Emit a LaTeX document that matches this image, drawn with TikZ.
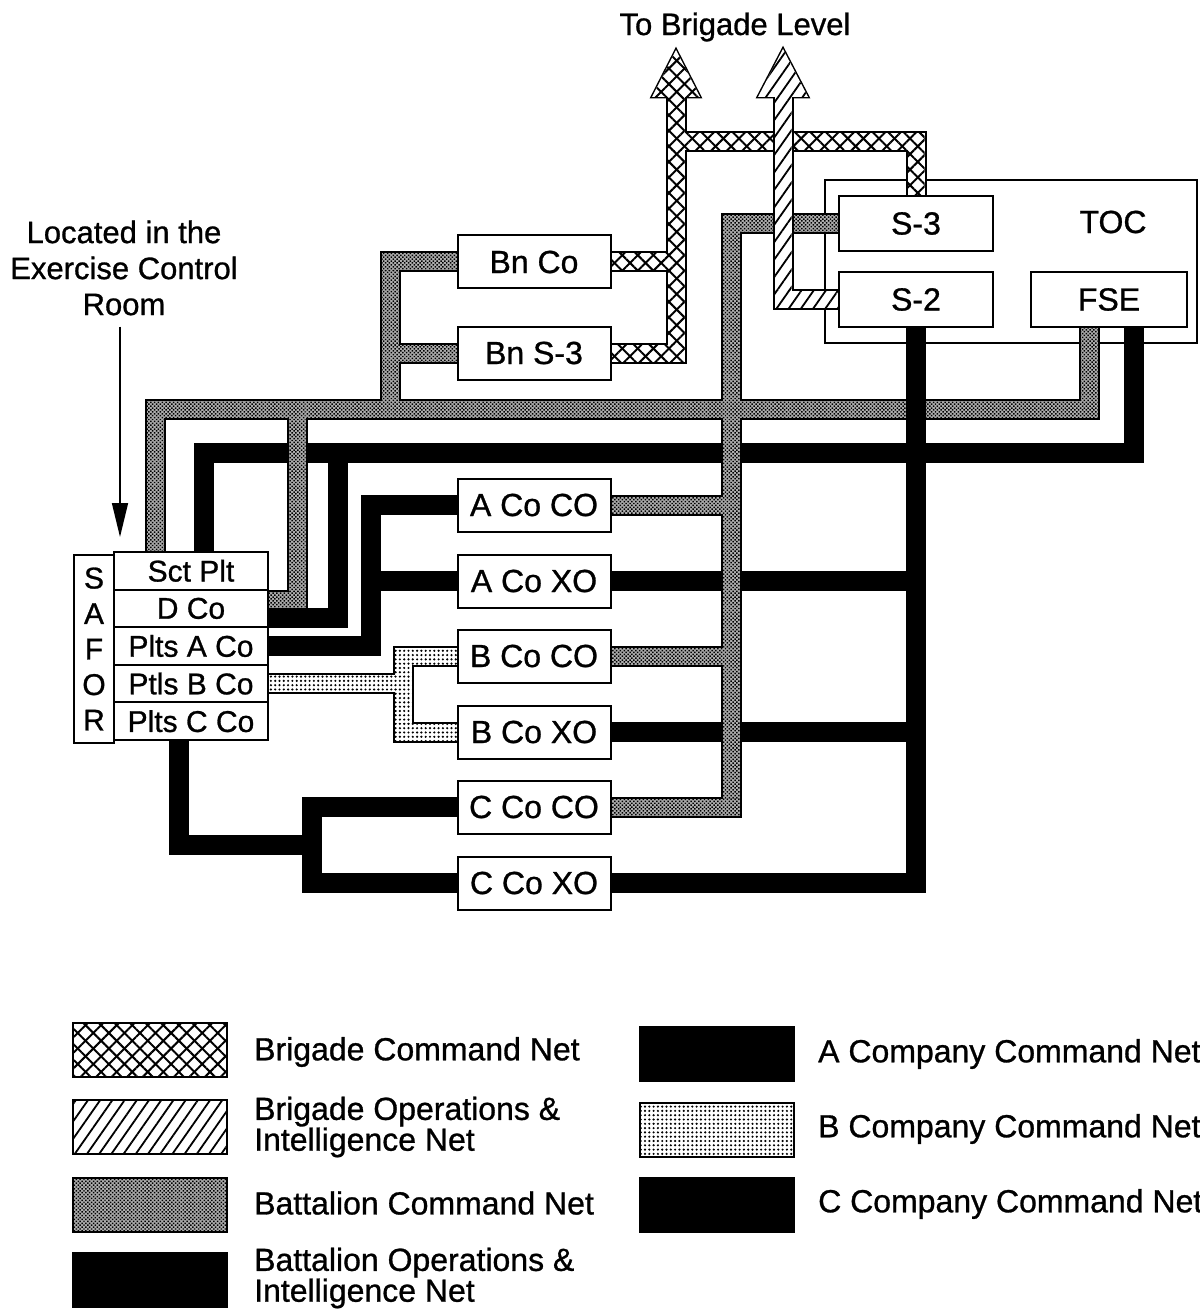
\documentclass[tikz,border=0pt]{standalone}
\usepackage{fontspec}
\setmainfont{Liberation Sans}[FakeBold=0.9]
\usetikzlibrary{arrows.meta,calc,patterns.meta}
\pgfdeclarelayer{frame}
\pgfdeclarelayer{nets}
\pgfsetlayers{frame,nets,main}

\newcommand\boxfont{\fontsize{32}{36}\selectfont}
\newcommand\rowfont{\fontsize{30}{35.5}\selectfont}

\tikzset{
  unitbox/.style  = {draw, line width=2pt, fill=white, minimum width=153pt,
                     minimum height=53pt, inner sep=0pt, font=\boxfont},
  rowbox/.style   = {draw, line width=2pt, fill=white, minimum width=154pt,
                     minimum height=37.6pt, inner sep=0pt, font=\rowfont},
  legbox/.style   = {draw, line width=2pt, minimum width=154pt, minimum height=54pt},
  legtext/.style  = {anchor=west, align=left, inner sep=0pt,
                     font=\fontsize{32}{29}\selectfont},
  bandedge/.style = {line width=21pt, line cap=rect, line join=miter},
  headedge/.style = {line width=3pt, line join=miter},
  solidnet/.style = {line width=20pt, line cap=rect, line join=miter},
  bdecmd/.style   = {fill=white,
                     postaction={pattern={Lines[angle=45,distance=11pt,line width=2pt]}},
                     postaction={pattern={Lines[angle=-45,distance=11pt,line width=2pt]}}},
  bdeoi/.style    = {fill=white,
                     postaction={pattern={Lines[angle=55,distance=10pt,line width=1.8pt]}}},
  bncmd/.style    = {fill=black!32,
                     postaction={pattern={Dots[angle=45,distance=2.7pt,radius=1.05pt]}}},
  bconet/.style   = {fill=white,
                     postaction={pattern={Dots[distance=4.3pt,radius=1.2pt]}}}
}

% a net: outline of every segment first, then the filling
\newcommand\netband[2]{%
  \foreach \a/\b in {#2} \draw[bandedge] (\a) -- (\b);
  \foreach \a/\b in {#2} \path[#1] ($(\a)+(-8.5,-8.5)$) rectangle ($(\b)+(8.5,8.5)$);
}

\begin{document}
\begin{tikzpicture}[x=1pt,y=-1pt]
  \useasboundingbox (0,0) rectangle (1199,1313);

  % battalion and company stations
  \node[unitbox] (bnco)  at (534,262) {Bn Co};
  \node[unitbox] (bns3)  at (534,353) {Bn S-3};
  \node[unitbox] (acoco) at (534,505) {A Co CO};
  \node[unitbox] (acoxo) at (534,581) {A Co XO};
  \node[unitbox] (bcoco) at (534,656) {B Co CO};
  \node[unitbox] (bcoxo) at (534,732) {B Co XO};
  \node[unitbox] (ccoco) at (534,807) {C Co CO};
  \node[unitbox] (ccoxo) at (534,883) {C Co XO};

  % TOC
  \begin{pgfonlayer}{frame}
    \node[draw, line width=2pt, minimum width=372pt, minimum height=163pt] (toc) at (1011,261.5) {};
  \end{pgfonlayer}
  \node[font=\boxfont] (toclbl) at (1113,222) {TOC};
  \node[unitbox, minimum width=154pt, minimum height=55pt] (s3)  at (916,223.5)  {S-3};
  \node[unitbox, minimum width=154pt, minimum height=55pt] (s2)  at (916,299.5)  {S-2};
  \node[unitbox, minimum width=156pt, minimum height=55pt] (fse) at (1109,299.5) {FSE};

  % SAFOR
  \node[draw, line width=2pt, minimum width=40pt, minimum height=188pt, inner sep=0pt,
        align=center, font=\rowfont] (safor) at (94,649) {S\\A\\F\\O\\R};
  \node[rowbox] (sct) at (191,570.8) {Sct Plt};
  \node[rowbox] (dco) at (191,608.4) {D Co};
  \node[rowbox] (pla) at (191,646)   {Plts A Co};
  \node[rowbox] (plb) at (191,683.6) {Ptls B Co};
  \node[rowbox] (plc) at (191,721.2) {Plts C Co};

  \node[font=\fontsize{31}{36}\selectfont] (tobde) at (735,27) {To Brigade Level};
  \node[align=center, inner sep=2pt, font=\fontsize{31}{36}\selectfont] (locnote)
       at (124,268) {Located in the\\Exercise Control\\Room};
  \coordinate (locend) at (120,537);
  \draw[line width=1.6pt, -{Triangle[length=34pt,width=16pt]}]
       ($(locend |- locnote.south)+(0,9)$) -- (locend);

  \begin{pgfonlayer}{nets}
    \coordinate (bcA) at (155,409);
    \coordinate (bcB) at (297,409);
    \coordinate (bcC) at (390,409);
    \coordinate (bcD) at (731,409);
    \coordinate (bcE) at (1089,409);
    \coordinate (bcF) at (bcC |- bnco.west);
    \coordinate (bcG) at (bcC |- bns3.west);
    \coordinate (dcoG) at ($(dco.east)+(0,-8)$);
    \coordinate (bcH) at (bcB |- dcoG);
    \coordinate (bcI) at (bcD |- s3.west);
    \coordinate (bcL) at (bcD |- ccoco.east);
    \coordinate (bcoX) at ($(plb.east)+(134,0)$);
    \coordinate (bkA) at (204,453);
    \coordinate (bkB) at (338,453);
    \coordinate (bkD) at (1134,453);
    \coordinate (dcoK) at ($(dco.east)+(0,10)$);
    \coordinate (bkE) at ($(acoco.west)+(-85.5,0)$);
    \coordinate (bkF) at (179,845);
    \coordinate (bkG) at (312,845);
    \coordinate (bdT) at (676,50);
    \coordinate (bdA) at (676,97);
    \coordinate (bdB) at (bdA |- bns3.east);
    \coordinate (bdC) at (676,142);
    \coordinate (bdD) at (s3.north |- bdC);
    \coordinate (bhT) at (783,49);
    \coordinate (bhA) at (783,97);
    \coordinate (bhB) at (bhA |- s2.west);

    % Battalion Command Net
    \netband{bncmd}{bcA/bcE, bcA/bcA |- sct.north, bcE |- fse.south/bcE,
      bcF/bcC, bcF/bnco.west, bcG/bns3.west, bcB/bcH, dcoG/bcH,
      bcI/bcL, bcI/s3.west, acoco.east/bcD |- acoco.east,
      bcoco.east/bcD |- bcoco.east, ccoco.east/bcL}

    % B Company Command Net
    \netband{bconet}{plb.east/bcoX, bcoX |- bcoco.west/bcoX |- bcoxo.west,
      bcoX |- bcoco.west/bcoco.west, bcoX |- bcoxo.west/bcoxo.west}

    % Bn O&I, A Co and C Co nets
    \foreach \a/\b in {bkA/bkD, bkA/bkA |- sct.north, bkD/bkD |- fse.south,
      bkB/bkB |- dcoK, dcoK/bkB |- dcoK,
      s2.south/s2.south |- ccoxo.east, ccoxo.east/s2.south |- ccoxo.east,
      acoxo.east/s2.south |- acoxo.east, bcoxo.east/s2.south |- bcoxo.east,
      bkE/bkE |- pla.east, bkE/acoco.west, bkE |- acoxo.west/acoxo.west,
      pla.east/bkE |- pla.east,
      bkF |- plc.south/bkF, bkF/bkG, bkG |- ccoco.west/bkG |- ccoxo.west,
      bkG |- ccoco.west/ccoco.west, bkG |- ccoxo.west/ccoxo.west}
      \draw[solidnet] (\a) -- (\b);

    % battalion command net passes over them
    \foreach \p in {bcB |- bkA, bcD |- bkA, bcD |- acoxo, bcD |- bcoxo}
      \path[bncmd] ($(\p)+(-8.5,-16)$) rectangle ($(\p)+(8.5,16)$);

    % Brigade Command Net
    \draw[headedge] ($(bdT)+(-24,47)$) -- (bdT) -- ($(bdT)+(24,47)$) -- cycle;
    \netband{bdecmd}{bdA/bdB, bnco.east/bdA |- bnco.east, bns3.east/bdB,
      bdC/bdD, bdD/s3.north}
    \path[bdecmd] ($(bdT)+(-24,47)$) -- (bdT) -- ($(bdT)+(24,47)$) -- cycle;

    % Brigade Operations & Intelligence Net
    \draw[headedge] ($(bhT)+(-25,48)$) -- (bhT) -- ($(bhT)+(25,48)$) -- cycle;
    \netband{bdeoi}{bhA/bhB, bhB/s2.west}
    \path[bdeoi] ($(bhT)+(-25,48)$) -- (bhT) -- ($(bhT)+(25,48)$) -- cycle;
  \end{pgfonlayer}

  % legend
  \node[legbox, bdecmd]     (lgbdc)  at (150,1050)   {};
  \node[legtext]            (lgbdct) at (254,1052)   {Brigade Command Net};
  \node[legbox, bdeoi]      (lgbdo)  at (150,1127)   {};
  \node[legtext]            (lgbdot) at (254,1127)   {Brigade Operations \&\\Intelligence Net};
  \node[legbox, bncmd]      (lgbnc)  at (150,1204.5) {};
  \node[legtext]            (lgbnct) at (254,1203)   {Battalion Command Net};
  \node[legbox, fill=black] (lgbno)  at (150,1280)   {};
  \node[legtext]            (lgbnot) at (254,1278)   {Battalion Operations \&\\Intelligence Net};
  \node[legbox, fill=black] (lgaco)  at (717,1054)   {};
  \node[legtext]            (lgacot) at (818,1054)   {A Company Command Net};
  \node[legbox, bconet]     (lgbco)  at (717,1130)   {};
  \node[legtext]            (lgbcot) at (818,1129)   {B Company Command Net};
  \node[legbox, fill=black] (lgcco)  at (717,1205)   {};
  \node[legtext]            (lgccot) at (818,1204)   {C Company Command Net};
\end{tikzpicture}
\end{document}
